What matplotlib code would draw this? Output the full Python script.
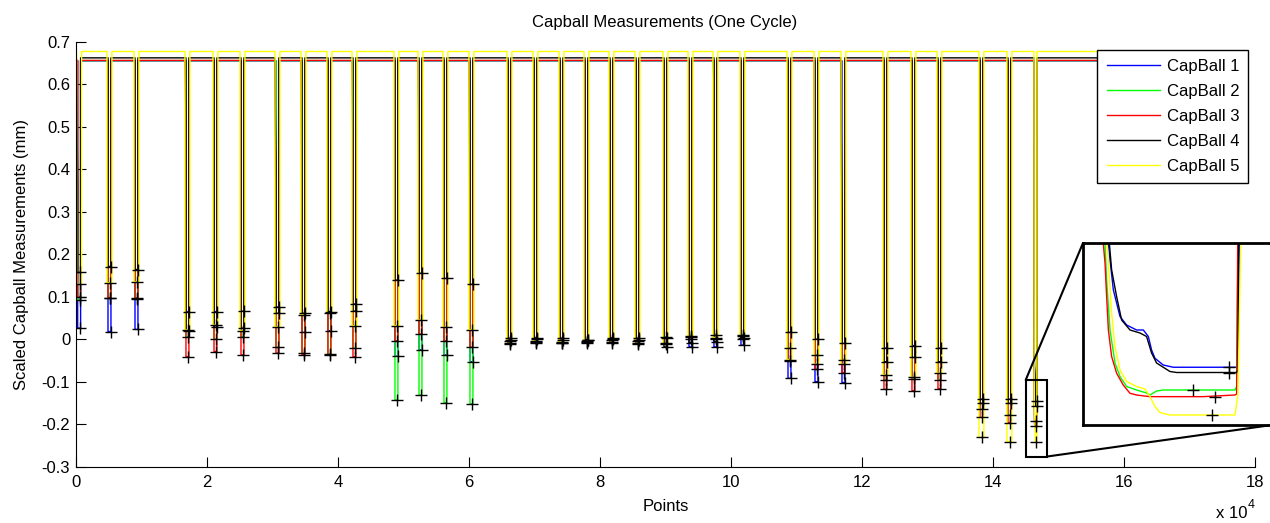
import matplotlib.pyplot as plt
from matplotlib.patches import Rectangle, ConnectionPatch
from matplotlib.ticker import FuncFormatter

plt.rcParams['font.family'] = ['Liberation Sans', 'DejaVu Sans']
plt.rcParams['font.size'] = 12
plt.rcParams['axes.unicode_minus'] = False

# Series
labels = ["CapBall 1", "CapBall 2", "CapBall 3", "CapBall 4", "CapBall 5"]
colors = ["#0000ff", "#00ff00", "#ff0000", "#000000", "#ffff00"]
baseline = [0.655, 0.6555, 0.656, 0.662, 0.677]

# Start of each probe dip (points)
dip_start = [
    300, 4930, 9050, 16830, 21110, 25230, 30570, 34540, 38500, 42320, 48730,
    52400, 56210, 60180, 65980, 69950, 73920, 77730, 81550, 85520, 89790,
    93610, 97420, 101540, 108720, 112840, 116960, 123370, 127640, 131610,
    138020, 142290, 146260,
]
dip_width = 450
yellow_pad = 150

# Measured level of each capball inside each dip (mm)
level_1 = [
    0.026, 0.018, 0.023, 0.065, 0.065, 0.066, 0.076, 0.016, 0.020, 0.083,
    -0.040, -0.025, -0.037, -0.053, -0.002, 0.000, -0.002, -0.003, 0.001,
    -0.001, 0.004, -0.018, -0.018, -0.014, -0.092, -0.100, -0.102, -0.021,
    -0.015, -0.021, -0.141, -0.141, -0.1465,
]
level_2 = [
    0.092, 0.096, 0.095, 0.006, 0.000, 0.006, -0.019, -0.033, -0.035, -0.021,
    -0.143, -0.131, -0.149, -0.152, -0.008, -0.006, -0.010, -0.008, -0.006,
    -0.009, 0.006, 0.008, 0.010, 0.010, -0.021, -0.037, -0.049, -0.096,
    -0.094, -0.096, -0.165, -0.178, -0.192,
]
level_3 = [
    0.099, 0.098, 0.097, -0.041, -0.029, -0.037, -0.033, -0.037, -0.037,
    -0.041, -0.004, 0.012, -0.004, -0.019, -0.012, -0.010, -0.008, -0.006,
    -0.008, -0.011, -0.010, 0.000, 0.000, 0.000, -0.051, -0.071, -0.079,
    -0.118, -0.121, -0.116, -0.184, -0.196, -0.2053,
]
level_4 = [
    0.157, 0.171, 0.164, 0.020, 0.028, 0.026, 0.061, 0.061, 0.065, 0.066,
    0.139, 0.155, 0.143, 0.129, 0.002, 0.003, 0.002, -0.001, 0.003, 0.002,
    -0.018, -0.008, -0.006, 0.004, 0.016, 0.000, -0.010, -0.053, -0.043,
    -0.053, -0.151, -0.151, -0.157,
]
level_5 = [
    0.129, 0.133, 0.135, 0.022, 0.033, 0.020, 0.029, 0.058, 0.062, 0.032,
    0.032, 0.045, 0.028, 0.022, -0.005, -0.004, -0.006, -0.004, -0.003,
    -0.005, -0.012, 0.005, 0.004, 0.008, -0.048, -0.059, -0.059, -0.084,
    -0.090, -0.080, -0.231, -0.241, -0.242,
]
levels = [level_1, level_2, level_3, level_4, level_5]

# Slow partial drops just before a dip: (dip, capball, value)
knees = [
    (0, 3, 0.37), (0, 1, 0.24), (3, 2, 0.52), (6, 3, 0.42), (6, 2, 0.30),
    (7, 2, 0.30), (9, 2, 0.45), (11, 2, 0.50), (11, 1, 0.30), (13, 2, 0.40),
    (13, 1, 0.22), (22, 1, 0.60), (25, 2, 0.10), (25, 1, 0.05),
    (26, 3, 0.30), (26, 2, 0.28), (26, 1, 0.21),
]

# Last dip sampled in detail: (fraction of dip width, value)
detail_1 = [(0.04, 0.102), (0.052, 0.0685), (0.077, 0.008), (0.126, -0.045),
            (0.175, -0.062), (0.249, -0.072), (0.299, -0.072), (0.336, -0.085),
            (0.36, -0.112), (0.385, -0.1285), (0.446, -0.142), (0.521, -0.1465),
            (0.99, -0.1465), (1.0, -0.139), (1.01, 0.102)]
detail_2 = [(0.015, 0.102), (0.027, 0.028), (0.052, -0.072), (0.089, -0.138),
            (0.126, -0.165), (0.175, -0.185), (0.249, -0.192), (0.323, -0.198),
            (0.348, -0.202), (0.397, -0.194), (0.446, -0.192), (0.978, -0.192),
            (0.99, -0.185), (1.0, 0.102)]
detail_3 = [(0.002, 0.102), (0.015, 0.062), (0.027, -0.005), (0.04, -0.072),
            (0.064, -0.125), (0.101, -0.1585), (0.15, -0.182), (0.2, -0.1986),
            (0.249, -0.202), (0.348, -0.2053), (0.743, -0.2053), (0.978, -0.202),
            (0.99, -0.2), (0.998, 0.102)]
detail_4 = [(0.047, 0.102), (0.064, 0.0485), (0.101, -0.005), (0.138, -0.052),
            (0.2, -0.072), (0.274, -0.078), (0.323, -0.085), (0.36, -0.118),
            (0.397, -0.138), (0.496, -0.155), (0.546, -0.157), (0.99, -0.157),
            (1.0, -0.152), (1.005, 0.102)]
detail_5 = [(0.03, 0.102), (0.044, 0.0485), (0.064, -0.038), (0.089, -0.105),
            (0.126, -0.152), (0.175, -0.175), (0.249, -0.185), (0.311, -0.19),
            (0.348, -0.205), (0.385, -0.225), (0.422, -0.237), (0.496, -0.242),
            (0.978, -0.242), (1.0, -0.2), (1.02, 0.102)]
details = [detail_1, detail_2, detail_3, detail_4, detail_5]

# where in the dip each reading is taken (fraction of dip width)
marker_pos = [0.93, 0.67, 0.83, 0.93, 0.81]

knee_lookup = {(d, k): v for d, k, v in knees}


def build_trace(k):
    pad = yellow_pad if k == 4 else 0
    base = baseline[k]
    xs, ys = [0], [base]
    last = len(dip_start) - 1
    for i, x0 in enumerate(dip_start):
        if i == last:
            pts = details[k]
            xs.append(x0 + (pts[0][0] - 0.01) * dip_width)
            ys.append(base)
            for f, v in pts:
                xs.append(x0 + f * dip_width)
                ys.append(v)
            xs.append(x0 + (pts[-1][0] + 0.01) * dip_width)
            ys.append(base)
            continue
        lo = x0 - pad
        hi = x0 + dip_width + pad
        lev = levels[k][i]
        knee = knee_lookup.get((i, k))
        if knee is not None:
            xs += [lo - 200, lo]
            ys += [base, knee]
        else:
            xs.append(lo)
            ys.append(base)
        xs += [lo, hi, hi]
        ys += [lev, lev, base]
    xs.append(170000)
    ys.append(base)
    return xs, ys


traces = [build_trace(k) for k in range(5)]
marker_x = [[x0 + marker_pos[k] * dip_width for x0 in dip_start] for k in range(5)]

fig = plt.figure(figsize=(12.7, 5.23), dpi=100)
ax = fig.add_axes([75.7 / 1270, 1 - 466.7 / 523, 1179.3 / 1270, 425 / 523])

for k in range(5):
    xs, ys = traces[k]
    ax.plot(xs, ys, color=colors[k], lw=1.0, label=labels[k])
for k in range(5):
    ax.plot(marker_x[k], levels[k], 'k+', ms=9, mew=1, zorder=4)

ax.set_xlim(0, 180000)
ax.set_ylim(-0.3, 0.7)
ax.set_xticks(range(0, 180001, 20000))
ax.xaxis.set_major_formatter(FuncFormatter(lambda v, p: f"{v / 1e4:g}"))
yticks = [-0.3, -0.2, -0.1, 0, 0.1, 0.2, 0.3, 0.4, 0.5, 0.6, 0.7]
ax.set_yticks(yticks)
ax.set_yticklabels([f"{v:g}" for v in yticks])
ax.spines['top'].set_visible(False)
ax.spines['right'].set_visible(False)
ax.tick_params(direction='in', length=7, width=0.8, top=False, right=False)
ax.tick_params(axis='x', pad=6)
ax.tick_params(axis='y', pad=4)

ax.set_xlabel("Points")
ax.xaxis.set_label_coords(0.5, -0.075)
ax.set_ylabel("Scaled Capball Measurements (mm)")
ax.yaxis.set_label_coords(-0.040, 0.5)
fig.text(665 / 1270, 1 - 22 / 523, "Capball Measurements (One Cycle)",
         ha='center', va='center')
fig.text(1247 / 1270, 1 - 514 / 523, "x 10", ha='right', va='center')
fig.text(1248 / 1270, 1 - 505 / 523, "4", ha='left', va='center', fontsize=9)

leg = ax.legend(loc='upper right', bbox_to_anchor=(1248.3 / 1270, 1 - 50 / 523),
                bbox_transform=fig.transFigure, borderaxespad=0, fancybox=False,
                edgecolor='k', framealpha=1, handlelength=3.2,
                handletextpad=0.4, borderpad=0.55, labelspacing=0.6)
leg.get_frame().set_linewidth(1)

# zoom box around the last dip
ax.add_patch(Rectangle((145000, -0.276), 3290, 0.18, fill=False, lw=1.5,
                       ec='k', zorder=5))

ax_in = fig.add_axes([1083 / 1270, 1 - 425 / 523, 189 / 1270, 182 / 523])
for k in range(5):
    xs, ys = traces[k]
    ax_in.plot(xs, ys, color=colors[k], lw=1)
for k in range(5):
    ax_in.plot(marker_x[k], levels[k], 'k+', ms=9, mew=1, zorder=4)
x_last = dip_start[-1]
ax_in.set_xlim(x_last - 0.148 * dip_width, x_last + 1.252 * dip_width)
ax_in.set_ylim(-0.262, 0.102)
ax_in.set_xticks([])
ax_in.set_yticks([])
for s in ax_in.spines.values():
    s.set_linewidth(2)

for xy_a, xy_b in [((145000, -0.096), (0, 1)), ((148290, -0.276), (1, 0))]:
    con = ConnectionPatch(xyA=xy_a, coordsA=ax.transData, xyB=xy_b,
                          coordsB=ax_in.transAxes, color='k', lw=1.5)
    fig.add_artist(con)

fig.savefig("out.png", dpi=100)
